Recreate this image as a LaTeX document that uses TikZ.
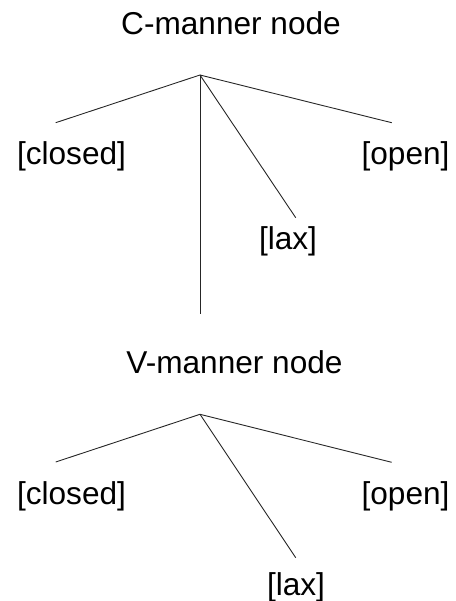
\documentclass[tikz,border=0pt]{standalone}
\usepackage{fontspec}
\setmainfont{Liberation Sans}
\usetikzlibrary{positioning}
\tikzset{
  % tree labels and titles
  feat/.style={anchor=base, inner sep=0pt, font=\fontsize{31.6pt}{38pt}\selectfont},
  % branch lines
  branch/.style={line width=0.9pt, color=black!85},
}
\begin{document}
\begin{tikzpicture}[x=1pt, y=-1pt]
  \useasboundingbox (0,0) rectangle (455,601);
  % upper tree
  \node[feat] (ctitle) at (231,35) {C-manner node};
  \coordinate (capex) at (200,75);
  \node[feat] (cclosed) at (71.5,165) {[closed]};
  \node[feat] (copen) at (405.5,165) {[open]};
  \node[feat] (clax) at (288,250) {[lax]};
  \coordinate (cl) at (55.7,122.7);
  \coordinate (cr) at (391.7,122.7);
  \coordinate (cx) at (295.7,217.7);
  \coordinate (cdown) at (200,314);
  \draw[branch] (capex) -- (cl);
  \draw[branch] (capex) -- (cr);
  \draw[branch] (capex) -- (cx);
  \draw[branch] (capex) -- (cdown);
  % lower tree
  \node[feat] (vtitle) at (234.5,373.3) {V-manner node};
  \coordinate (vapex) at (200,414.3);
  \node[feat] (vclosed) at (71.5,504.3) {[closed]};
  \node[feat] (vopen) at (405.5,504.3) {[open]};
  \node[feat] (vlax) at (296,595) {[lax]};
  \coordinate (vl) at (55.7,462);
  \coordinate (vr) at (391.7,462.3);
  \coordinate (vx) at (295.7,557.7);
  \draw[branch] (vapex) -- (vl);
  \draw[branch] (vapex) -- (vr);
  \draw[branch] (vapex) -- (vx);
\end{tikzpicture}
\end{document}
